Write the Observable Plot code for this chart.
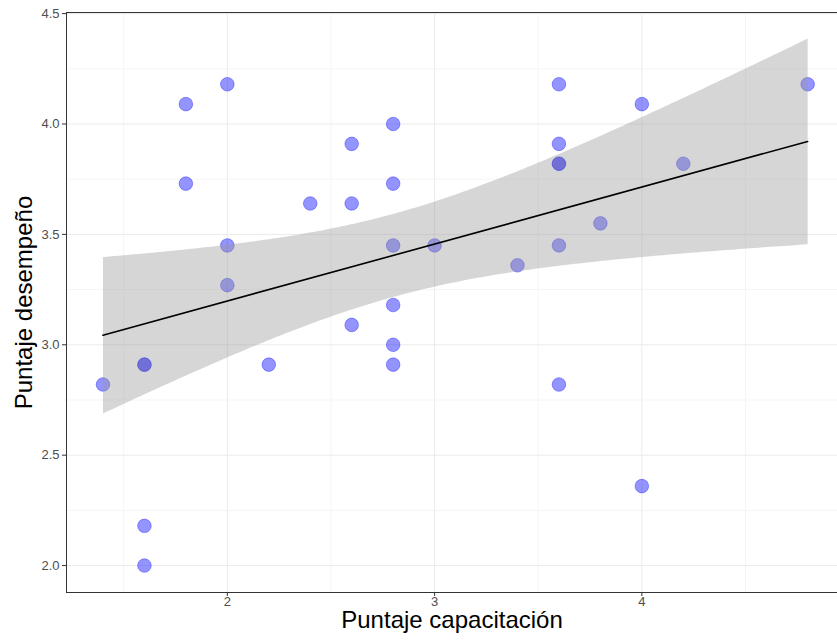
<!DOCTYPE html>
<html>
<head>
<meta charset="utf-8">
<script src="https://cdn.jsdelivr.net/npm/d3@7"></script>
<script src="https://cdn.jsdelivr.net/npm/@observablehq/plot@0.6"></script>
<style>
  html, body { margin: 0; padding: 0; background: #fff; }
  svg { overflow: visible; }
</style>
</head>
<body>
<div id="chart"></div>
<script>
const capacitacion = [1.4, 1.6, 1.6, 1.6, 1.6, 1.8, 1.8, 2.0, 2.0, 2.0, 2.2, 2.4, 2.6, 2.6, 2.6,
  2.8, 2.8, 2.8, 2.8, 2.8, 2.8, 3.0, 3.4, 3.6, 3.6, 3.6, 3.6, 3.6, 3.6, 3.8, 4.0, 4.0, 4.2, 4.8];
const desempeno = [2.82, 2.91, 2.91, 2.18, 2.0, 4.09, 3.73, 4.18, 3.45, 3.27, 2.91, 3.64, 3.91, 3.64, 3.09,
  4.0, 3.73, 3.45, 3.18, 3.0, 2.91, 3.45, 3.36, 4.18, 3.91, 3.82, 3.82, 3.45, 2.82, 3.55, 4.09, 2.36, 3.82, 4.18];
const xTicks = [2, 3, 4];
const xMinor = [1.5, 2.5, 3.5, 4.5];
const yTicks = [2.0, 2.5, 3.0, 3.5, 4.0, 4.5];
const yMinor = [2.25, 2.75, 3.25, 3.75, 4.25];
const xTitle = "Puntaje capacitación";
const yTitle = "Puntaje desempeño";

const data = capacitacion.map((x, i) => ({x, y: desempeno[i]}));

const font = "'Liberation Sans', Arial, sans-serif";
const chart = Plot.plot({
  width: 837,
  height: 640,
  marginLeft: 66,
  marginRight: 0,
  marginTop: 12,
  marginBottom: 48,
  style: {fontFamily: font, background: "#fff"},
  x: {domain: [1.224, 4.944]},
  y: {domain: [1.878, 4.505]},
  marks: [
    Plot.ruleX(xMinor, {stroke: "#f5f5f5", strokeWidth: 1}),
    Plot.ruleY(yMinor, {stroke: "#f5f5f5", strokeWidth: 1}),
    Plot.ruleX(xTicks, {stroke: "#ebebeb", strokeWidth: 1}),
    Plot.ruleY(yTicks, {stroke: "#ebebeb", strokeWidth: 1}),
    Plot.dot(data, {x: "x", y: "y", r: 6.8, fill: "blue", fillOpacity: 0.42, stroke: "blue", strokeOpacity: 0.35, strokeWidth: 1}),
    Plot.linearRegressionY(data, {x: "x", y: "y", ci: 0.95, fill: "#999999", fillOpacity: 0.4, stroke: "black", strokeWidth: 1.6}),
    Plot.axisX({ticks: xTicks, tickFormat: d => String(d), tickSize: 4, tickPadding: 0, fontSize: 13, color: "#4d4d4d", stroke: "#333", label: null}),
    Plot.axisY({ticks: yTicks, tickFormat: d3.format(".1f"), tickSize: 4, tickPadding: 3, fontSize: 13, color: "#4d4d4d", stroke: "#333", label: null}),
    Plot.ruleX([1.224], {stroke: "#333", strokeWidth: 1}),
    Plot.ruleY([4.505], {stroke: "#333", strokeWidth: 1}),
    Plot.ruleY([1.878], {stroke: "#333", strokeWidth: 1}),
    Plot.text([xTitle], {frameAnchor: "bottom", dy: 35, fontSize: 24, fill: "black", fontFamily: font}),
    Plot.text([yTitle], {frameAnchor: "left", textAnchor: "middle", dx: -42, rotate: -90, fontSize: 24, fill: "black", fontFamily: font})
  ]
});
document.getElementById("chart").appendChild(chart);
</script>
</body>
</html>
